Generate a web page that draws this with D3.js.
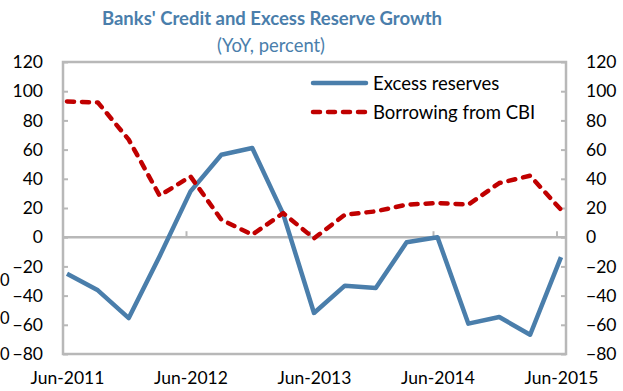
<!DOCTYPE html>
<html><head><meta charset="utf-8">
<script src="https://cdn.jsdelivr.net/npm/d3@7"></script>
<style>body{margin:0;background:#fff;} svg{display:block;} text{font-style:normal;}</style>
</head><body>
<svg id="c" width="623" height="391"></svg>
<script>
const categories = ["Jun-2011","Sep-2011","Dec-2011","Mar-2012","Jun-2012","Sep-2012","Dec-2012","Mar-2013","Jun-2013","Sep-2013","Dec-2013","Mar-2014","Jun-2014","Sep-2014","Dec-2014","Mar-2015","Jun-2015"];
const excessReserves = [-25, -36.4, -55.4, -13, 31.4, 56.5, 61.1, 16, -51.9, -33.2, -34.8, -3.5, 0, -59.2, -54.7, -66.8, -13.6];
const borrowingCBI = [93, 92.3, 66.8, 28.5, 41.6, 12, 1.7, 16.5, -0.8, 15.4, 17.7, 22.3, 23.4, 22.3, 37.1, 42.1, 18.8];
const xTickLabels = ["Jun-2011","Jun-2012","Jun-2013","Jun-2014","Jun-2015"];
const yTicks = [-80,-60,-40,-20,0,20,40,60,80,100,120];
const seriesNames = ["Excess reserves","Borrowing from CBI"];
const title = "Banks' Credit and Excess Reserve Growth";
const subtitle = "(YoY, percent)";
const cutLabels = ["0","0","0"];

const svg = d3.select("#c");
const font = "Lato, Carlito, Calibri, sans-serif";
const pL = 63, pR = 566, pT = 62, pB = 354;
const grey = "#b8b8b8";
const blue = "#4a7eab", red = "#c00000";

const x = d3.scalePoint().domain(categories).range([67, 561]);
const y = d3.scaleLinear().domain([-80, 120]).range([pB, pT]);

// title
svg.append("text").attr("x", 272).attr("y", 25).attr("text-anchor","middle")
  .attr("font-family", font).attr("font-weight","bold").attr("font-size", 18.5)
  .attr("fill", "#4a7eab").text(title);
svg.append("text").attr("x", 271).attr("y", 52).attr("text-anchor","middle")
  .attr("font-family", font).attr("font-size", 18.4).attr("font-style","normal")
  .attr("fill", "#4a7eab").text(subtitle);

// plot frame
svg.append("rect").attr("x", pL).attr("y", pT).attr("width", pR-pL).attr("height", pB-pT)
  .attr("fill","none").attr("stroke", grey).attr("stroke-width", 2.5);

// left axis
const yl = d3.axisLeft(y).tickValues(yTicks).tickSize(-5).tickPadding(20);
const gL = svg.append("g").attr("transform", `translate(${pL},0)`).call(yl);
// right axis
const yr = d3.axisRight(y).tickValues(yTicks).tickSize(-5).tickPadding(20);
const gR = svg.append("g").attr("transform", `translate(${pR},0)`).call(yr);
[gL, gR].forEach(g => {
  g.select(".domain").remove();
  g.selectAll(".tick line").attr("stroke", grey).attr("stroke-width", 2);
  g.selectAll(".tick text").attr("font-family", font).attr("font-size", 17.5).attr("fill", "#000");
});

// zero line / x axis
const xa = d3.axisBottom(x).tickValues(xTickLabels).tickSize(0).tickPadding(0);
const gX = svg.append("g").attr("transform", `translate(0,${y(0)})`).call(xa);
gX.select(".domain").remove();
svg.append("line").attr("x1", pL).attr("x2", pR).attr("y1", y(0)).attr("y2", y(0))
  .attr("stroke", grey).attr("stroke-width", 2.5);
gX.selectAll(".tick text").attr("font-family", font).attr("font-size", 17.5).attr("fill","#000")
  .attr("dy", 0).attr("y", 384 - y(0));
// x tick marks (pointing up from zero line)
svg.append("g").selectAll("line").data(xTickLabels.slice(1)).join("line")
  .attr("x1", d => x(d) - 4).attr("x2", d => x(d) - 4)
  .attr("y1", y(0)).attr("y2", y(0) - 6)
  .attr("stroke", grey).attr("stroke-width", 2);

// lines
const line = d3.line().x((d,i) => x(categories[i])).y(d => y(d));
svg.append("path").datum(excessReserves).attr("d", line)
  .attr("fill","none").attr("stroke", blue).attr("stroke-width", 4.5)
  .attr("stroke-linejoin","round");
svg.append("path").datum(borrowingCBI).attr("d", line)
  .attr("fill","none").attr("stroke", red).attr("stroke-width", 4.5)
  .attr("stroke-dasharray","7,8").attr("stroke-linecap","round")
  .attr("stroke-linejoin","round");

// legend
const lg = svg.append("g");
lg.append("line").attr("x1", 313).attr("x2", 366).attr("y1", 83).attr("y2", 83)
  .attr("stroke", blue).attr("stroke-width", 4.5).attr("stroke-linecap","round");
lg.append("line").attr("x1", 313).attr("x2", 366).attr("y1", 112).attr("y2", 112)
  .attr("stroke", red).attr("stroke-width", 4.5).attr("stroke-dasharray","7,8").attr("stroke-linecap","round");
lg.append("text").attr("x", 373).attr("y", 89.5).attr("font-family", font).attr("font-size", 18.5)
  .attr("fill","#000").text(seriesNames[0]);
lg.append("text").attr("x", 373).attr("y", 118.5).attr("font-family", font).attr("font-size", 18.5)
  .attr("fill","#000").text(seriesNames[1]);

// partly visible labels at far left edge (from an adjacent panel)
const cutY = [286, 324, 360];
svg.append("g").selectAll("text").data(cutLabels).join("text")
  .attr("x", 0).attr("y", (d,i) => cutY[i]).attr("text-anchor","start")
  .attr("font-family", font).attr("font-size", 16.5).attr("fill","#000").text(d => d);
</script>
</body></html>
